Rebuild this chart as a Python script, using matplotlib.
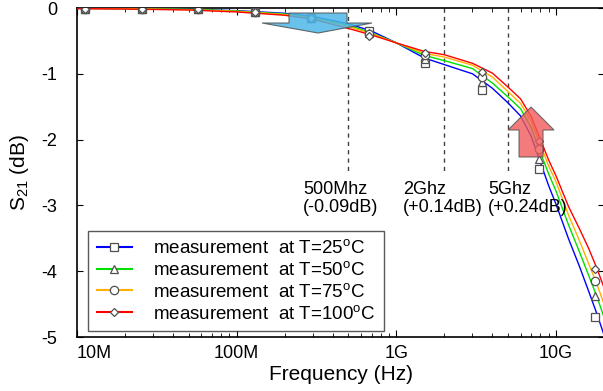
import numpy as np
import matplotlib
matplotlib.use('Agg')
import matplotlib.pyplot as plt
from matplotlib.lines import Line2D
from matplotlib.patches import Polygon

plt.rcParams['font.family'] = ['Liberation Sans', 'DejaVu Sans']
plt.rcParams['mathtext.fontset'] = 'custom'
plt.rcParams['mathtext.rm'] = 'Liberation Sans'
plt.rcParams['mathtext.it'] = 'Liberation Sans:italic'

# measured S21 traces (Hz, dB)
freq = [1e7, 2e7, 5e7, 1e8, 2e8, 3e8, 5e8, 7e8, 1e9, 1.5e9, 2e9, 3e9, 4e9, 5e9,
        6e9, 7e9, 8e9, 9e9, 1e10, 1.2e10, 1.4e10, 1.6e10, 1.8e10, 2e10]
s21_25 = [-0.005, -0.01, -0.02, -0.04, -0.08, -0.13, -0.24, -0.35, -0.53, -0.76, -0.86, -1.00,
          -1.22, -1.44, -1.64, -1.95, -2.35, -2.70, -2.98, -3.51, -3.92, -4.30, -4.64, -4.97]
s21_50 = [-0.005, -0.01, -0.02, -0.045, -0.09, -0.145, -0.26, -0.38, -0.53, -0.72, -0.80, -0.92,
          -1.14, -1.35, -1.53, -1.82, -2.20, -2.52, -2.78, -3.30, -3.70, -4.06, -4.38, -4.70]
s21_75 = [-0.005, -0.01, -0.025, -0.05, -0.10, -0.155, -0.28, -0.39, -0.53, -0.69, -0.745, -0.87,
          -1.05, -1.27, -1.45, -1.72, -2.08, -2.40, -2.64, -3.15, -3.53, -3.88, -4.19, -4.50]
s21_100 = [-0.01, -0.015, -0.03, -0.06, -0.11, -0.17, -0.31, -0.41, -0.53, -0.66, -0.71, -0.84,
           -0.99, -1.20, -1.38, -1.65, -2.00, -2.31, -2.55, -3.02, -3.35, -3.65, -3.95, -4.25]

# marker points
freq_mk = [1.12e7, 2.56e7, 5.7e7, 1.3e8, 2.93e8, 6.7e8, 1.52e9, 3.45e9, 7.8e9, 1.75e10]
mk_25 = [-0.01, -0.01, -0.01, -0.06, -0.15, -0.35, -0.83, -1.24, -2.44, -4.70]
mk_50 = [-0.01, -0.01, -0.01, -0.06, -0.15, -0.38, -0.77, -1.12, -2.29, -4.38]
mk_75 = [-0.01, -0.01, -0.01, -0.06, -0.15, -0.40, -0.72, -1.05, -2.14, -4.15]
mk_100 = [-0.01, -0.01, -0.01, -0.06, -0.15, -0.43, -0.68, -0.98, -2.02, -3.97]

labels = ['measurement  at T=25$^{\\rm o}$C', 'measurement  at T=50$^{\\rm o}$C',
          'measurement  at T=75$^{\\rm o}$C', 'measurement  at T=100$^{\\rm o}$C']
colors = ['#0000ff', '#00e000', '#ffb000', '#ff0000']
markers = ['s', '^', 'o', 'D']
msizes = [6, 6, 6, 4.5]

# annotations
mark_freq = [5e8, 2e9, 5e9]
mark_text = ['500Mhz\n(-0.09dB)', '2Ghz\n(+0.14dB)', '5Ghz\n(+0.24dB)']
mark_xpos = [0.429, 0.619, 0.780]

fig = plt.figure(figsize=(6.03, 3.91), dpi=100)
ax = fig.add_axes([0.1277, 0.1381, 0.874, 0.8414])

lines = [s21_25, s21_50, s21_75, s21_100]
mks = [mk_25, mk_50, mk_75, mk_100]
for y, c in zip(lines, colors):
    ax.plot(freq, y, color=c, lw=1.0, zorder=3)
for y, m, ms in zip(mks, markers, msizes):
    ax.plot(freq_mk, y, ls='none', marker=m, ms=ms, mfc='white', mec='#505050',
            mew=0.9, zorder=4)

for f in mark_freq:
    ax.plot([f, f], [0, -2.5], color='#404040', lw=1.0, ls=(0, (3, 3)), zorder=2)
for t, xp in zip(mark_text, mark_xpos):
    ax.text(xp, 0.475, t, transform=ax.transAxes, ha='left', va='top',
            fontsize=13, linespacing=1.1)

# blue (down) and red (up) arrows, axes fraction
def px(x, y):
    return ((x - 77) / 527, (337 - y) / 329)

blue = [px(289, 13), px(347, 13), px(347, 23), px(372, 23), px(318, 33),
        px(262, 23), px(289, 23)]
red = [px(519, 157), px(543, 157), px(543, 130), px(554, 130), px(531, 107),
       px(508, 130), px(519, 130)]
ax.add_patch(Polygon(blue, closed=True, transform=ax.transAxes, fc='#4db8e8',
                     ec='#505050', lw=0.8, alpha=0.85, zorder=5))
ax.add_patch(Polygon(red, closed=True, transform=ax.transAxes, fc='#f05a5a',
                     ec='#505050', lw=0.8, alpha=0.8, zorder=5))

ax.set_xscale('log')
ax.set_xlim(1e7, 2e10)
ax.set_ylim(-5, 0)
ax.set_yticks([0, -1, -2, -3, -4, -5])
ax.set_yticklabels(['0', '-1', '-2', '-3', '-4', '-5'])
ax.set_xticks([1e7, 1e8, 1e9, 1e10])
ax.set_xticklabels(['10M', '100M', '1G', '10G'])
ax.tick_params(axis='both', which='both', direction='in', top=True, right=True,
               labelsize=13)
ax.tick_params(axis='x', which='major', length=5, pad=6)
ax.tick_params(axis='x', which='minor', length=3)
ax.tick_params(axis='y', which='major', length=4, pad=14)
ax.xaxis.get_ticklabels()[0].set_ha('left')
for sp in ax.spines.values():
    sp.set_linewidth(1.2)

ax.set_xlabel('Frequency (Hz)', fontsize=15, labelpad=2)
ax.set_ylabel('S$_{\\rm 21}$ (dB)', fontsize=15, labelpad=8)

handles = [Line2D([], [], color=c, lw=1.5, marker=m, ms=ms, mfc='white',
                  mec='#505050', mew=0.9) for c, m, ms in zip(colors, markers, msizes)]
leg = ax.legend(handles, labels, loc='lower left', bbox_to_anchor=(0.021, 0.018),
                borderaxespad=0, fontsize=13.5, frameon=True, fancybox=False,
                edgecolor='#303030', handlelength=1.9, handletextpad=1.1,
                labelspacing=0.2, borderpad=0.45)
leg.get_frame().set_linewidth(1.0)

fig.savefig('out.png', dpi=100)
